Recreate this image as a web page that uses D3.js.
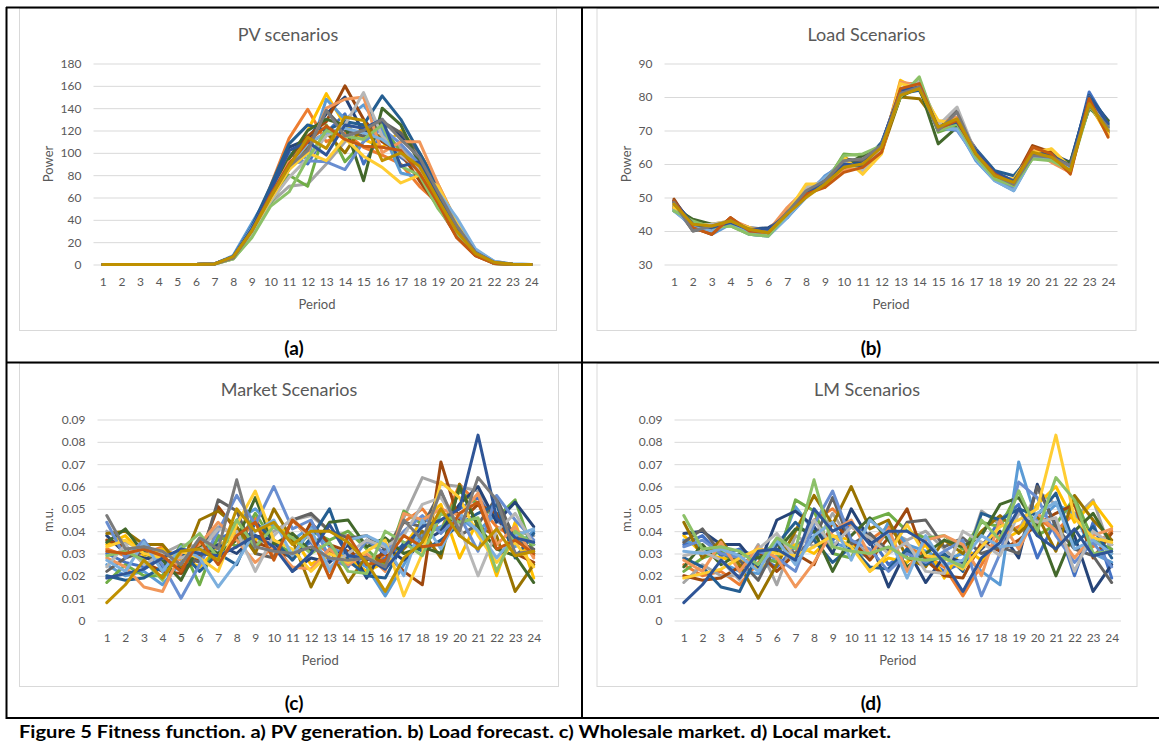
<!DOCTYPE html>
<html>
<head>
<meta charset="utf-8">
<script src="https://cdn.jsdelivr.net/npm/d3@7/dist/d3.min.js"></script>
<style>
  body { margin: 0; background: #fff; }
  svg text { font-family: Lato, "Open Sans", sans-serif; }
</style>
</head>
<body>
<div id="figure"></div>
<script>
var periods = [1,2,3,4,5,6,7,8,9,10,11,12,13,14,15,16,17,18,19,20,21,22,23,24];

// Excel default series colours, in series order
var palette = ["#4472C4","#ED7D31","#A5A5A5","#FFC000","#5B9BD5","#70AD47",
               "#264478","#9E480E","#636363","#997300","#255E91","#43682B",
               "#698ED0","#F1975A","#B7B7B7","#FFCD33","#7CAFDD","#8CC168",
               "#2F5597","#C55A11","#7B7B7B","#BF9000"];

var pvTicks = [0,20,40,60,80,100,120,140,160,180];
var loadTicks = [30,40,50,60,70,80,90];
var priceTicks = [0,0.01,0.02,0.03,0.04,0.05,0.06,0.07,0.08,0.09];

// PV scenarios (one row per scenario, 24 periods)
var pvScenarios = [
  [0,0,0,0,0,0,0.5,7,33,62,100,90,118,135,90,118,96,84,60,34,11,2,0.3,0],
  [0,0,0,0,0,0,0.6,6,30,70,113,139,110,118,105,98,90,70,55,30,11,2,0.3,0],
  [0,0,0,0,0,0,0.4,5,28,55,70,72,90,110,120,115,105,88,62,35,12,2,0.2,0],
  [0,0,0,0,0,0,0.5,6,32,60,95,120,153,125,112,105,120,100,72,38,12,2,0.3,0],
  [0,0,0,0,0,0,0.6,8,37,65,100,95,148,130,143,120,82,78,60,40,13,3,0.4,0],
  [0,0,0,0,0,0,0.4,5,25,55,80,70,125,92,110,125,100,85,52,30,10,1,0.2,0],
  [0,0,0,0,0,0,0.5,7,33,68,105,112,135,150,118,128,115,95,65,35,12,2,0.3,0],
  [0,0,0,0,0,0,0.5,6,30,63,95,115,128,160,130,110,100,75,52,25,8,1,0.2,0],
  [0,0,0,0,0,0,0.5,6,30,60,90,105,138,120,115,128,118,100,70,38,12,2,0.3,0],
  [0,0,0,0,0,0,0.5,6,28,58,85,108,118,100,125,112,98,90,60,32,10,1,0.2,0],
  [0,0,0,0,0,0,0.6,7,34,70,108,125,120,128,125,151,130,100,70,36,12,2,0.3,0],
  [0,0,0,0,0,0,0.5,6,30,62,95,120,130,125,75,140,125,90,60,33,11,2,0.3,0],
  [0,0,0,0,0,0,0.5,7,32,64,90,93,92,85,110,122,108,90,62,35,11,2,0.3,0],
  [0,0,0,0,0,0,0.5,6,30,60,92,100,140,148,150,100,110,110,72,38,12,2,0.3,0],
  [0,0,0,0,0,0,0.4,5,27,56,78,95,115,125,154,115,98,85,58,32,10,2,0.2,0],
  [0,0,0,0,0,0,0.5,6,30,58,85,100,93,113,97,87,73,80,70,38,12,2,0.3,0],
  [0,0,0,0,0,0,0.6,7,33,62,88,108,118,122,118,112,100,88,65,42,14,3,0.4,0],
  [0,0,0,0,0,0,0.4,5,24,52,65,95,120,115,112,125,88,80,50,28,9,1,0.2,0],
  [0,0,0,0,0,0,0.5,7,32,65,102,110,98,125,122,130,88,92,62,34,11,2,0.3,0],
  [0,0,0,0,0,0,0.5,6,30,62,90,110,124,112,106,105,102,82,55,24,8,1,0.2,0],
  [0,0,0,0,0,0,0.5,6,30,60,88,102,138,115,120,130,112,96,65,35,11,2,0.3,0],
  [0,0,0,0,0,0,0.5,7,30,60,88,114,104,132,129,93,100,88,58,30,10,2,0.2,0]
];

// Load scenarios
var loadScenarios = [
  [47,42,40,42,40,39.5,44.5,50.5,55.5,59.5,60,65.5,82,83,71.5,72.5,63.5,57.5,54,63,62.5,59,81.5,72],
  [48.5,41.5,39.5,43.5,40,39.5,46,51.5,55,58,59,64,84,84,70,73,62.5,56,54,64,61,57.5,79,70],
  [47,40.5,41,42.5,39.5,39,45.5,51,54.5,60.5,59.5,65,81,83.5,70.5,74,62,56.5,53.5,62.5,61,58.5,77.5,69.5],
  [46.5,42.5,42,43,41,39,45,53.5,53,62.5,57,63.5,85,82,72,72,63,55.5,55.5,62,64.5,59,78,68.5],
  [46,41.5,39,42,39,38.5,44,50,56.5,60,58.5,66,80.5,84.5,70,71,61,55,52,62,62,59.5,78.5,71],
  [46,43,41.5,41.5,39,38.5,45,51,54,63,62.5,64.5,80,85,69.5,71.5,62,55.5,53,62.5,61.5,59,77,70.5],
  [49,42,41,43,40.5,41,44.5,51.5,55,61,60.5,66,82.5,83.5,71,73,64,57,54.5,63.5,63,60.5,80,73],
  [49.5,41,39,44,40,39.5,46,51,54,58.5,59,64,82,84,71,73.5,63,57.5,55,65.5,63.5,58,79.5,69.5],
  [48,40,41,43,40.5,39.5,45.5,52,54.5,61.5,61,65.5,81.5,83,70,76,63,56,54,62,62.5,60,78,71.5],
  [47.5,42,41.5,42.5,40.5,40,45,52,53.5,59,59.5,63.5,80,79.5,72,73,63.5,56.5,55,63.5,62,58.5,77.5,70],
  [48.5,42.5,41,43,41,40.5,44,51,55.5,60,60,66.5,81,82,71.5,72.5,64.5,58,56.5,63,63,60,80.5,72.5],
  [47,43.5,42,42,40,39,45,52,54,59.5,62.5,65.5,80,83,66,71,63,56,53.5,62,62,60.5,76.5,73],
  [46.5,41,40.5,42,39.5,39,44.5,51.5,56,61,58,65,81,84,71,70,62,55.5,53,62.5,61,58.5,79,71],
  [47,42,40.5,43.5,41,40,47,52.5,54,58,60,64,84.5,83.5,72.5,74,64,57,55,64,60.5,57.5,80,69],
  [48,41.5,42,43,40.5,40,45,53,55,60.5,58,65,82,85,71.5,77,63,56,54.5,63,62,59,78.5,70.5],
  [47,42.5,41.5,42.5,41,39,45.5,54,54,62,57,63,84,82.5,73,72,62.5,55.5,55.5,63.5,64.5,59,78,69],
  [46,41.5,40,42,39,38.5,44,50.5,56,60,59,66,80.5,83,70.5,70.5,61.5,55,52,62,61.5,59,78,70],
  [46,43,41,41.5,39,38.5,45,51.5,54.5,62.5,63,65.5,80,86,70,72,62,55.5,53.5,61.5,61,58,77,71.5],
  [49,42,41,42.5,40.5,40.5,45,51,55,60,59.5,66,82,83,71,72.5,64,57.5,55,63,62.5,59.5,80,72],
  [49,41,39,44,40,39.5,45.5,51,53,57.5,59,63.5,82.5,84,70.5,73,63,57,54,65,63,57,79.5,68],
  [48.5,40,41.5,43,40.5,39.5,45.5,52,55,61,61.5,65.5,81,83,70,75.5,63,56.5,54,62.5,62,59.5,77.5,71],
  [48,42,41.5,43,40.5,39.5,45,50,54,59,60,65,80.5,82.5,71,73.5,63,56.5,54.5,63.5,62,58,78,70]
];

// Wholesale market price scenarios
var marketScenarios = [
  [0.030,0.026,0.024,0.028,0.022,0.030,0.036,0.041,0.037,0.034,0.030,0.035,0.027,0.030,0.024,0.028,0.034,0.038,0.045,0.050,0.055,0.045,0.038,0.034],
  [0.032,0.029,0.030,0.033,0.027,0.035,0.038,0.033,0.046,0.028,0.045,0.036,0.030,0.026,0.022,0.030,0.044,0.050,0.040,0.061,0.052,0.042,0.037,0.029],
  [0.040,0.035,0.032,0.030,0.034,0.033,0.042,0.038,0.032,0.040,0.045,0.047,0.040,0.038,0.035,0.030,0.046,0.064,0.061,0.060,0.058,0.045,0.040,0.038],
  [0.034,0.038,0.029,0.032,0.028,0.024,0.033,0.040,0.036,0.043,0.038,0.025,0.031,0.028,0.022,0.026,0.033,0.045,0.052,0.028,0.045,0.020,0.044,0.019],
  [0.025,0.020,0.022,0.016,0.026,0.035,0.030,0.045,0.050,0.042,0.036,0.042,0.033,0.029,0.024,0.011,0.025,0.038,0.042,0.046,0.040,0.048,0.033,0.040],
  [0.017,0.025,0.020,0.020,0.034,0.016,0.038,0.033,0.048,0.035,0.030,0.040,0.036,0.040,0.032,0.024,0.049,0.043,0.040,0.058,0.052,0.046,0.054,0.030],
  [0.038,0.030,0.028,0.027,0.023,0.028,0.034,0.030,0.038,0.036,0.022,0.028,0.026,0.034,0.019,0.033,0.027,0.035,0.040,0.052,0.060,0.044,0.053,0.042],
  [0.036,0.033,0.026,0.022,0.021,0.029,0.051,0.040,0.035,0.032,0.028,0.044,0.034,0.031,0.027,0.030,0.022,0.016,0.071,0.044,0.052,0.048,0.030,0.026],
  [0.022,0.028,0.031,0.024,0.029,0.026,0.054,0.049,0.030,0.028,0.045,0.048,0.040,0.037,0.038,0.032,0.044,0.042,0.058,0.038,0.043,0.055,0.036,0.032],
  [0.039,0.040,0.034,0.034,0.024,0.045,0.049,0.042,0.030,0.050,0.036,0.015,0.032,0.017,0.029,0.026,0.032,0.040,0.028,0.061,0.042,0.038,0.013,0.025],
  [0.020,0.018,0.019,0.024,0.031,0.022,0.030,0.025,0.044,0.036,0.027,0.037,0.050,0.027,0.020,0.019,0.035,0.031,0.036,0.043,0.048,0.052,0.028,0.039],
  [0.035,0.041,0.030,0.027,0.018,0.034,0.030,0.036,0.055,0.034,0.039,0.031,0.044,0.045,0.033,0.037,0.030,0.033,0.030,0.060,0.042,0.032,0.029,0.017],
  [0.044,0.028,0.036,0.025,0.010,0.025,0.040,0.056,0.043,0.060,0.041,0.045,0.028,0.024,0.036,0.030,0.040,0.047,0.039,0.047,0.031,0.056,0.045,0.036],
  [0.028,0.024,0.015,0.013,0.030,0.034,0.044,0.036,0.026,0.033,0.024,0.023,0.032,0.025,0.030,0.022,0.048,0.045,0.050,0.047,0.057,0.034,0.042,0.028],
  [0.024,0.034,0.025,0.030,0.028,0.031,0.041,0.040,0.022,0.038,0.046,0.036,0.024,0.030,0.036,0.033,0.038,0.052,0.055,0.042,0.020,0.040,0.048,0.034],
  [0.033,0.036,0.030,0.028,0.031,0.028,0.022,0.043,0.058,0.036,0.032,0.022,0.030,0.026,0.031,0.036,0.011,0.030,0.062,0.055,0.038,0.026,0.035,0.024],
  [0.027,0.022,0.035,0.022,0.033,0.028,0.015,0.026,0.040,0.045,0.029,0.041,0.022,0.036,0.038,0.034,0.020,0.045,0.032,0.048,0.040,0.028,0.038,0.041],
  [0.029,0.031,0.027,0.018,0.032,0.039,0.028,0.045,0.033,0.042,0.037,0.030,0.035,0.022,0.021,0.040,0.035,0.029,0.048,0.044,0.046,0.022,0.040,0.034],
  [0.019,0.021,0.023,0.028,0.032,0.030,0.029,0.033,0.038,0.033,0.022,0.030,0.043,0.029,0.028,0.023,0.033,0.042,0.045,0.050,0.083,0.046,0.037,0.035],
  [0.031,0.030,0.032,0.029,0.022,0.036,0.025,0.038,0.044,0.027,0.045,0.038,0.019,0.038,0.025,0.027,0.038,0.033,0.034,0.048,0.053,0.032,0.036,0.030],
  [0.047,0.032,0.033,0.031,0.025,0.037,0.032,0.063,0.033,0.031,0.030,0.033,0.028,0.027,0.028,0.024,0.045,0.036,0.058,0.040,0.064,0.054,0.030,0.031],
  [0.008,0.016,0.027,0.019,0.031,0.032,0.027,0.050,0.040,0.044,0.034,0.040,0.040,0.035,0.026,0.013,0.028,0.035,0.050,0.038,0.032,0.041,0.029,0.031]
];

// Local market scenarios: the same price paths as the wholesale chart,
// without its first three scenarios
var lmScenarios = marketScenarios.slice(3);

var priceFormat = function (d) { return d === 0 ? "0" : d3.format(".2f")(d); };

var panels = [
  { title: "PV scenarios", yTitle: "Power", tag: "(a)", series: pvScenarios,
    domain: [0, 180], ticks: pvTicks, fmt: d3.format("d"),
    box: [19.5, 8.5, 537, 322], plot: [93.5, 540.5, 63.5, 264.5], cellX: 294, tagY: 355 },
  { title: "Load Scenarios", yTitle: "Power", tag: "(b)", series: loadScenarios,
    domain: [30, 90], ticks: loadTicks, fmt: d3.format("d"),
    box: [597, 8.5, 539, 322], plot: [664.5, 1117.5, 63.5, 264.5], cellX: 871, tagY: 355 },
  { title: "Market Scenarios", yTitle: "m.u.", tag: "(c)", series: marketScenarios,
    domain: [0, 0.09], ticks: priceTicks, fmt: priceFormat,
    box: [19.5, 363.5, 539, 323], plot: [97.5, 543, 419.5, 620.5], cellX: 294, tagY: 710 },
  { title: "LM Scenarios", yTitle: "m.u.", tag: "(d)", series: lmScenarios,
    domain: [0, 0.09], ticks: priceTicks, fmt: priceFormat,
    box: [597, 363.5, 540, 323], plot: [674.5, 1121, 419.5, 620.5], cellX: 871, tagY: 710 }
];

var svg = d3.select("#figure").append("svg")
  .attr("width", 1159)
  .attr("height", 743);

svg.append("rect").attr("width", 1159).attr("height", 743).attr("fill", "#fff");

function drawPanel(p) {
  var g = svg.append("g");
  var x0 = p.plot[0], x1 = p.plot[1], yTop = p.plot[2], yBot = p.plot[3];

  g.append("rect")
    .attr("x", p.box[0]).attr("y", p.box[1])
    .attr("width", p.box[2]).attr("height", p.box[3])
    .attr("fill", "#fff").attr("stroke", "#d9d9d9");

  var x = d3.scalePoint().domain(periods).range([x0, x1]).padding(0.5);
  var y = d3.scaleLinear().domain(p.domain).range([yBot, yTop]);

  // gridlines + y labels
  g.append("g")
    .attr("transform", "translate(" + x0 + ",0)")
    .call(d3.axisLeft(y).tickValues(p.ticks).tickSize(-(x1 - x0)).tickPadding(12).tickFormat(p.fmt))
    .call(function (a) { a.select(".domain").remove(); })
    .call(function (a) { a.selectAll("line").attr("stroke", "#d9d9d9"); })
    .call(function (a) {
      a.selectAll("text").attr("fill", "#595959")
        .style("font-size", "12px").style("font-family", "Lato, sans-serif");
    });

  // period labels
  g.append("g")
    .attr("transform", "translate(0," + yBot + ")")
    .call(d3.axisBottom(x).tickSize(0).tickPadding(13))
    .call(function (a) { a.select(".domain").remove(); })
    .call(function (a) {
      a.selectAll("text").attr("fill", "#595959")
        .style("font-size", "12px").style("font-family", "Lato, sans-serif");
    });

  var line = d3.line()
    .x(function (d, i) { return x(periods[i]); })
    .y(function (d) { return y(d); });

  g.append("g").selectAll("path")
    .data(p.series)
    .join("path")
    .attr("d", line)
    .attr("fill", "none")
    .attr("stroke", function (d, i) { return palette[i % palette.length]; })
    .attr("stroke-width", 3)
    .attr("stroke-linejoin", "round")
    .attr("stroke-linecap", "round");

  g.append("text")
    .attr("x", p.box[0] + p.box[2] / 2).attr("y", p.box[1] + 32)
    .attr("text-anchor", "middle")
    .attr("fill", "#595959")
    .style("font-size", "18px")
    .text(p.title);

  g.append("text")
    .attr("x", (x0 + x1) / 2).attr("y", yBot + 44)
    .attr("text-anchor", "middle")
    .attr("fill", "#595959")
    .style("font-size", "13px")
    .text("Period");

  g.append("text")
    .attr("transform", "translate(" + (p.box[0] + 29) + "," + (yTop + yBot) / 2 + ") rotate(-90)")
    .attr("text-anchor", "middle")
    .attr("dy", "0.35em")
    .attr("fill", "#595959")
    .style("font-size", "13px")
    .text(p.yTitle);

  g.append("text")
    .attr("x", p.cellX).attr("y", p.tagY)
    .attr("text-anchor", "middle")
    .attr("fill", "#000")
    .style("font-size", "19px")
    .style("font-weight", "bold")
    .text(p.tag);
}

panels.forEach(drawPanel);

// table rules around the four cells
var rules = [
  [6, 7.5, 1159, 7.5],
  [6, 362.5, 1159, 362.5],
  [6, 718, 1159, 718],
  [6.5, 7, 6.5, 719],
  [582, 7, 582, 719]
];
svg.append("g").selectAll("line")
  .data(rules)
  .join("line")
  .attr("x1", function (d) { return d[0]; })
  .attr("y1", function (d) { return d[1]; })
  .attr("x2", function (d) { return d[2]; })
  .attr("y2", function (d) { return d[3]; })
  .attr("stroke", "#000")
  .attr("stroke-width", 2);

svg.append("text")
  .attr("x", 19).attr("y", 738)
  .attr("fill", "#000")
  .style("font-size", "16.5px")
  .style("font-weight", "bold")
  .attr("textLength", 872)
  .attr("lengthAdjust", "spacingAndGlyphs")
  .text("Figure 5 Fitness function. a) PV generation. b) Load forecast. c) Wholesale market. d) Local market.");
</script>
</body>
</html>
